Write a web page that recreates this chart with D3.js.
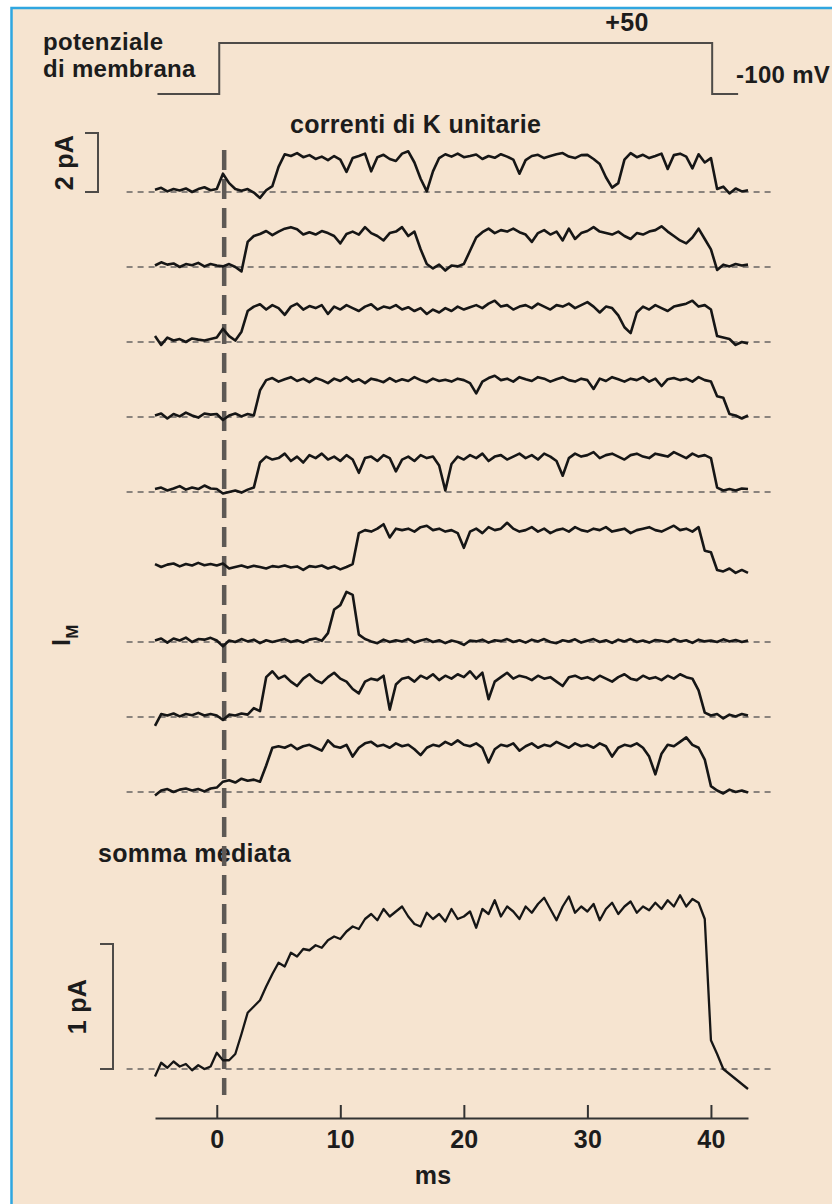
<!DOCTYPE html>
<html>
<head>
<meta charset="utf-8">
<script src="https://cdn.jsdelivr.net/npm/d3@7"></script>
<style>
html, body { margin: 0; padding: 0; background: #fff; }
svg { display: block; }
text { font-family: 'Liberation Sans', Arial, Helvetica, sans-serif; font-weight: bold; fill: #1c1c1c; letter-spacing: 0.3px; }
</style>
</head>
<body>
<div id="chart"></div>
<script>
const WIDTH = 832
const HEIGHT = 1204
const BG = '#f6e4d0'
const INK = '#161616'
const GREY = '#4e4b48'
const FONT = 25

// every sweep is sampled from -5 ms, one value each 0.5 ms
const T_START = -5
const T_STEP = 0.5
const xTicks = [0, 10, 20, 30, 40]

// voltage command (mV) and the times it switches (ms)
const holdingV = -100
const testV = 50
const stepTimes = [-4.8, 0.2, 40.1, 42.2]
const markerTime = 0.6

// single K channel currents, pA
const sweep1 = [
	0.08, 0.14, 0.02, 0.1, 0.05, 0.12, 0.0, 0.1, 0.16, 0.06,
	0.1, 0.62, 0.3, 0.1, 0.04, 0.1, -0.02, -0.2, 0.06, 0.2,
	0.85, 1.28, 1.22, 1.32, 1.18, 1.25, 1.12, 1.2, 1.08, 1.22,
	1.1, 0.68, 1.15, 1.22, 1.3, 0.7, 1.18, 1.26, 1.12, 1.05,
	1.3, 1.38, 1.0, 0.45, 0.02, 0.7, 1.15, 1.28, 1.2, 1.3,
	1.18, 1.22, 1.27, 1.12, 1.22, 1.16, 1.28, 1.2, 1.1, 0.62,
	1.08, 1.22, 1.26, 1.15, 1.22, 1.28, 1.32, 1.2, 1.15, 1.25,
	1.26, 1.12, 0.95, 0.5, 0.15, 0.3, 1.1, 1.32, 1.18, 1.26,
	1.15, 1.22, 1.3, 0.78, 1.25, 1.3, 1.2, 0.8, 1.28, 1.0,
	1.15, 0.1, 0.18, -0.05, 0.12, 0.02, 0.06
]
const sweep2 = [
	0.05, 0.16, 0.08, 0.12, 0.0, 0.1, 0.06, 0.14, 0.02, 0.1,
	0.05, 0.02, 0.1, 0.0, -0.15, 0.85, 1.05, 1.12, 1.22, 1.08,
	1.2, 1.3, 1.35, 1.28, 1.1, 1.18, 1.1, 1.22, 1.15, 1.05,
	0.8, 1.12, 1.2, 1.1, 1.35, 1.15, 1.05, 0.9, 1.15, 1.2,
	1.35, 1.05, 1.2, 0.6, 0.1, -0.05, 0.08, -0.12, 0.05, 0.02,
	0.1, 0.55, 1.0, 1.18, 1.3, 1.15, 1.25, 1.2, 1.3, 1.18,
	1.1, 0.85, 1.15, 1.25, 1.1, 1.2, 0.9, 1.3, 0.95, 1.15,
	1.22, 1.35, 1.2, 1.15, 1.1, 1.2, 1.05, 0.95, 1.15, 1.1,
	1.2, 1.25, 1.38, 1.2, 1.05, 0.9, 0.8, 1.0, 1.3, 0.95,
	0.6, -0.1, 0.08, 0.02, 0.1, 0.05, 0.08
]
const sweep3 = [
	0.2, -0.1, 0.15, 0.05, 0.1, 0.0, 0.12, 0.08, 0.05, 0.1,
	0.15, 0.45, 0.2, 0.05, 0.35, 1.05, 1.2, 1.28, 1.1, 1.25,
	1.15, 0.92, 1.2, 1.3, 1.1, 1.22, 1.15, 1.25, 0.95, 1.2,
	1.1, 1.25, 1.15, 1.05, 1.2, 1.28, 1.1, 1.2, 1.15, 1.25,
	1.1, 1.18, 1.05, 1.15, 0.95, 1.1, 1.0, 1.15, 1.05, 1.2,
	1.1, 1.18, 1.25, 1.15, 1.3, 1.4, 1.2, 1.25, 1.1, 1.2,
	1.25, 1.15, 1.3, 1.2, 1.1, 1.25, 1.2, 1.3, 1.15, 1.25,
	1.35, 1.2, 1.0, 1.2, 1.15, 0.9, 0.5, 0.3, 1.0, 1.2,
	1.1, 1.25, 1.15, 1.05, 1.2, 1.25, 1.3, 1.4, 1.2, 1.25,
	1.1, 0.2, 0.15, 0.1, -0.1, 0.0, -0.05
]
const sweep4 = [
	0.05, 0.12, -0.05, 0.1, 0.02, 0.15, 0.05, -0.02, 0.12, 0.08,
	0.1, -0.1, 0.05, 0.12, 0.02, 0.1, 0.05, 0.9, 1.25, 1.32,
	1.2, 1.28, 1.35, 1.22, 1.3, 1.18, 1.32, 1.25, 1.15, 1.3,
	1.22, 1.35, 1.2, 1.28, 1.15, 1.3, 1.25, 1.18, 1.32, 1.2,
	1.28, 1.22, 1.35, 1.25, 1.18, 1.3, 1.22, 1.26, 1.2, 1.3,
	1.25, 1.15, 0.8, 1.2, 1.32, 1.4, 1.25, 1.3, 1.2, 1.35,
	1.28, 1.22, 1.35, 1.3, 1.2, 1.28, 1.35, 1.25, 1.2, 1.3,
	1.25, 0.95, 1.3, 1.22, 1.35, 1.28, 1.2, 1.3, 1.25, 1.35,
	1.2, 1.3, 1.05, 1.28, 1.32, 1.25, 1.3, 1.2, 1.35, 1.25,
	1.2, 0.7, 0.65, 0.1, 0.05, -0.05, 0.05
]
const sweep5 = [
	0.1, 0.15, 0.05, 0.12, 0.2, 0.08, 0.15, 0.1, 0.22, 0.12,
	0.1, -0.05, 0.0, 0.05, -0.02, 0.08, 0.15, 1.0, 1.2, 1.1,
	1.15, 1.3, 1.05, 1.2, 1.0, 1.25, 1.15, 1.3, 1.1, 1.2,
	1.05, 1.25, 1.1, 0.65, 1.15, 1.2, 1.05, 1.25, 1.15, 0.7,
	1.1, 1.2, 1.05, 1.25, 1.15, 1.2, 0.9, 0.05, 0.95, 1.2,
	1.1, 1.25, 1.15, 1.3, 1.05, 1.2, 1.25, 1.1, 1.2, 1.3,
	1.15, 1.25, 1.1, 1.3, 1.2, 1.05, 0.55, 1.15, 1.3, 1.2,
	1.25, 1.35, 1.15, 1.25, 1.3, 1.2, 1.1, 1.25, 1.3, 1.2,
	1.15, 1.3, 1.25, 1.2, 1.35, 1.25, 1.15, 1.3, 1.2, 1.25,
	1.15, 0.15, 0.05, 0.1, 0.05, 0.12, 0.1
]
const sweep6 = [
	0.1, 0.0, 0.08, 0.12, 0.02, 0.1, 0.05, 0.14, 0.06, 0.1,
	0.05, 0.12, -0.05, 0.0, 0.05, -0.02, 0.04, 0.0, -0.05, 0.03,
	0.0, 0.05, -0.02, 0.02, -0.1, 0.03, 0.0, 0.05, -0.05, 0.02,
	-0.08, 0.0, 0.1, 1.15, 1.25, 1.2, 1.3, 1.45, 1.0, 1.3,
	1.25, 1.3, 1.2, 1.35, 1.4, 1.25, 1.3, 1.2, 1.25, 1.15,
	0.65, 1.2, 1.3, 1.15, 1.35, 1.25, 1.3, 1.5, 1.3, 1.2,
	1.25, 1.35, 1.2, 1.3, 1.15, 1.25, 1.3, 1.2, 1.35, 1.25,
	1.2, 1.3, 1.25, 1.35, 1.2, 1.25, 1.3, 1.15, 1.25, 1.3,
	1.35, 1.25, 1.2, 1.3, 1.4, 1.25, 1.3, 1.2, 1.35, 0.55,
	0.5, -0.1, -0.15, -0.05, -0.2, -0.1, -0.2
]
const sweep7 = [
	0.05, 0.12, -0.02, 0.12, 0.05, 0.15, 0.0, 0.1, 0.08, 0.14,
	0.05, -0.15, 0.05, 0.0, 0.1, 0.02, 0.08, -0.04, 0.06, 0.0,
	0.05, 0.1, 0.0, 0.06, -0.02, 0.08, 0.12, 0.04, 0.3, 1.1,
	1.25, 1.7, 1.6, 0.25, 0.1, 0.02, -0.04, 0.08, 0.0, 0.06,
	0.02, 0.1, -0.02, 0.05, 0.1, 0.0, 0.06, -0.04, 0.05, 0.0,
	-0.1, 0.05, 0.02, 0.08, -0.02, 0.06, 0.03, 0.1, 0.0, 0.06,
	-0.02, 0.08, 0.02, 0.1, 0.0, -0.04, 0.06, 0.02, 0.09, -0.02,
	0.04, 0.1, 0.0, 0.06, -0.03, 0.08, 0.02, 0.1, 0.0, 0.05,
	-0.02, 0.07, 0.04, 0.0, 0.1, 0.02, 0.06, -0.03, 0.08, 0.02,
	0.05, 0.0, 0.09, 0.02, 0.07, 0.0, 0.05
]
const sweep8 = [
	-0.3, 0.1, 0.05, 0.12, 0.02, 0.1, 0.06, 0.14, 0.05, 0.1,
	0.05, -0.1, 0.08, 0.05, 0.12, 0.08, 0.3, 0.2, 1.35, 1.55,
	1.3, 1.4, 1.2, 1.05, 1.3, 1.45, 1.25, 1.15, 1.35, 1.5,
	1.3, 1.2, 0.95, 0.8, 1.2, 1.3, 1.25, 1.4, 0.25, 1.1,
	1.3, 1.35, 1.2, 1.4, 1.3, 1.45, 1.25, 1.4, 1.3, 1.45,
	1.35, 1.55, 1.3, 1.5, 0.6, 1.2, 1.35, 1.5, 1.3, 1.4,
	1.35, 1.25, 1.4, 1.3, 1.35, 1.2, 1.05, 1.35, 1.4, 1.3,
	1.35, 1.25, 1.4, 1.3, 1.2, 1.35, 1.45, 1.3, 1.25, 1.4,
	1.3, 1.35, 1.25, 1.4, 1.3, 1.45, 1.35, 1.3, 0.9, 0.15,
	0.05, 0.1, -0.05, 0.08, 0.02, 0.1, 0.05
]
const sweep9 = [
	-0.12, 0.05, 0.1, 0.0, 0.08, 0.12, 0.05, 0.1, 0.02, 0.12,
	0.15, 0.35, 0.4, 0.32, 0.45, 0.38, 0.42, 0.35, 0.9, 1.5,
	1.55, 1.5, 1.6, 1.45, 1.55, 1.6, 1.5, 1.4, 1.75, 1.55,
	1.5, 1.6, 1.2, 1.5, 1.65, 1.7, 1.55, 1.6, 1.5, 1.65,
	1.55, 1.6, 1.45, 1.25, 1.5, 1.6, 1.55, 1.7, 1.6, 1.75,
	1.6, 1.55, 1.65, 1.5, 1.0, 1.45, 1.6, 1.55, 1.65, 1.4,
	1.55, 1.65, 1.5, 1.6, 1.55, 1.7, 1.6, 1.5, 1.65, 1.55,
	1.6, 1.5, 1.65, 1.55, 1.2, 1.5, 1.6, 1.55, 1.65, 1.5,
	1.2, 0.6, 1.3, 1.6, 1.55, 1.7, 1.85, 1.6, 1.5, 1.1,
	0.2, 0.05, -0.05, 0.08, 0.0, 0.05, -0.02
]
const sweeps = [sweep1, sweep2, sweep3, sweep4, sweep5, sweep6, sweep7, sweep8, sweep9]
const hasBaseline = [true, true, true, true, true, false, true, true, true]

// averaged sum of many sweeps, pA
const average = [
	-0.06, 0.05, 0.01, 0.06, 0.02, 0.04, -0.01, 0.03, 0.0, 0.02,
	0.13, 0.07, 0.07, 0.12, 0.28, 0.45, 0.5, 0.55, 0.66, 0.76,
	0.85, 0.82, 0.93, 0.9, 0.96, 0.95, 0.99, 0.97, 1.03, 1.06,
	1.04, 1.1, 1.14, 1.12, 1.2, 1.24, 1.19, 1.28, 1.22, 1.26,
	1.3, 1.22, 1.16, 1.14, 1.25, 1.2, 1.24, 1.18, 1.28, 1.2,
	1.22, 1.26, 1.13, 1.28, 1.24, 1.35, 1.22, 1.3, 1.26, 1.2,
	1.3, 1.25, 1.32, 1.37, 1.28, 1.19, 1.3, 1.38, 1.25, 1.3,
	1.26, 1.32, 1.19, 1.28, 1.33, 1.24, 1.3, 1.34, 1.25, 1.3,
	1.27, 1.33, 1.28, 1.35, 1.3, 1.39, 1.3, 1.36, 1.33, 1.2,
	0.23, 0.12, 0.0, -0.04, -0.08, -0.12, -0.16
]

const times = d3.range(sweep1.length).map(i => T_START + i * T_STEP)

const x = d3.scaleLinear().domain([-5, 43]).range([155, 748])
const rowY = d3.scalePoint().domain(d3.range(sweeps.length)).range([192, 792])
const unitY = d3.scaleLinear().domain([0, 2]).range([0, -59])
const sumY = d3.scaleLinear().domain([0, 1]).range([1069, 944])
const voltY = d3.scaleLinear().domain([holdingV, testV]).range([94, 43])

const svg = d3.select('#chart').append('svg')
	.attr('width', WIDTH)
	.attr('height', HEIGHT)

// page frame
svg.append('rect').attr('width', WIDTH).attr('height', HEIGHT).attr('fill', '#fff')
svg.append('rect')
	.attr('x', 12).attr('y', 8)
	.attr('width', WIDTH - 12).attr('height', HEIGHT - 8)
	.attr('fill', BG)
svg.append('path')
	.attr('d', `M11.5,${HEIGHT} V8 H${WIDTH}`)
	.attr('fill', 'none')
	.attr('stroke', '#2fa6e0')
	.attr('stroke-width', 2.5)

function label(txt, px, py, anchor = 'start', rotate = false, size = FONT) {
	const t = svg.append('text')
		.attr('font-size', size)
		.attr('text-anchor', anchor)
		.text(txt)
	if (rotate) t.attr('transform', `translate(${px},${py}) rotate(-90)`)
	else t.attr('x', px).attr('y', py)
	return t
}

// voltage protocol
const stepPts = [
	[stepTimes[0], holdingV], [stepTimes[1], holdingV], [stepTimes[1], testV],
	[stepTimes[2], testV], [stepTimes[2], holdingV], [stepTimes[3], holdingV],
]
svg.append('path')
	.attr('d', d3.line().x(d => x(d[0])).y(d => voltY(d[1]))(stepPts))
	.attr('fill', 'none')
	.attr('stroke', GREY)
	.attr('stroke-width', 2)

label('potenziale', 43, 50, 'start', false, 24)
label('di membrana', 43, 77, 'start', false, 24)
label('+50', 627, 31, 'middle')
label('-100 mV', 736, 83, 'start', false, 24)
label('correnti di K unitarie', 290, 133)
label('somma mediata', 98, 862)

// baselines of the closed state
const baseExtent = [-7.3, 45.2]
svg.append('g').selectAll('line')
	.data(d3.range(sweeps.length).filter(i => hasBaseline[i]).map(i => rowY(i)).concat([sumY(0)]))
	.join('line')
	.attr('x1', x(baseExtent[0]))
	.attr('x2', x(baseExtent[1]))
	.attr('y1', d => d)
	.attr('y2', d => d)
	.attr('stroke', '#8a837d')
	.attr('stroke-width', 1.8)
	.attr('stroke-dasharray', '6 5')

// pulse onset marker
svg.append('line')
	.attr('x1', x(markerTime)).attr('x2', x(markerTime))
	.attr('y1', 150).attr('y2', 1095)
	.attr('stroke', '#5e5955')
	.attr('stroke-width', 4.5)
	.attr('stroke-dasharray', '20 9')

// unitary sweeps
svg.append('g').selectAll('path')
	.data(sweeps)
	.join('path')
	.attr('d', (s, k) => d3.line()
		.x((d, i) => x(times[i]))
		.y(d => rowY(k) + unitY(d))(s))
	.attr('fill', 'none')
	.attr('stroke', INK)
	.attr('stroke-width', 2.6)
	.attr('stroke-linejoin', 'round')

// averaged current
svg.append('path')
	.attr('d', d3.line().x((d, i) => x(times[i])).y(d => sumY(d))(average))
	.attr('fill', 'none')
	.attr('stroke', INK)
	.attr('stroke-width', 2.3)
	.attr('stroke-linejoin', 'round')

// calibration bars
function calBar(px, y0, y1) {
	svg.append('path')
		.attr('d', `M${px - 13},${y1} H${px} V${y0} H${px - 13}`)
		.attr('fill', 'none')
		.attr('stroke', GREY)
		.attr('stroke-width', 2)
}
calBar(98, rowY(0) + unitY(0), rowY(0) + unitY(2))
label('2 pA', 73, (rowY(0) * 2 + unitY(2)) / 2, 'middle', true)
calBar(113, sumY(0), sumY(1))
label('1 pA', 86, (sumY(0) + sumY(1)) / 2, 'middle', true)

const im = svg.append('text')
	.attr('font-size', FONT)
	.attr('transform', 'translate(70,646) rotate(-90)')
im.append('tspan').text('I')
im.append('tspan').attr('font-size', 17).attr('dy', 8).text('M')

// time axis
const axis = svg.append('g')
	.attr('transform', 'translate(0,1118)')
	.call(d3.axisBottom(x)
		.tickValues(xTicks)
		.tickSizeInner(-13)
		.tickSizeOuter(0)
		.tickPadding(12))
axis.attr('font-family', null).attr('font-size', null)
axis.select('.domain').attr('stroke', '#333').attr('stroke-width', 2)
axis.selectAll('.tick line').attr('stroke', '#333').attr('stroke-width', 2)
axis.selectAll('.tick text')
	.attr('font-size', FONT)
	.attr('fill', INK)

label('ms', 433, 1184, 'middle')
</script>
</body>
</html>
